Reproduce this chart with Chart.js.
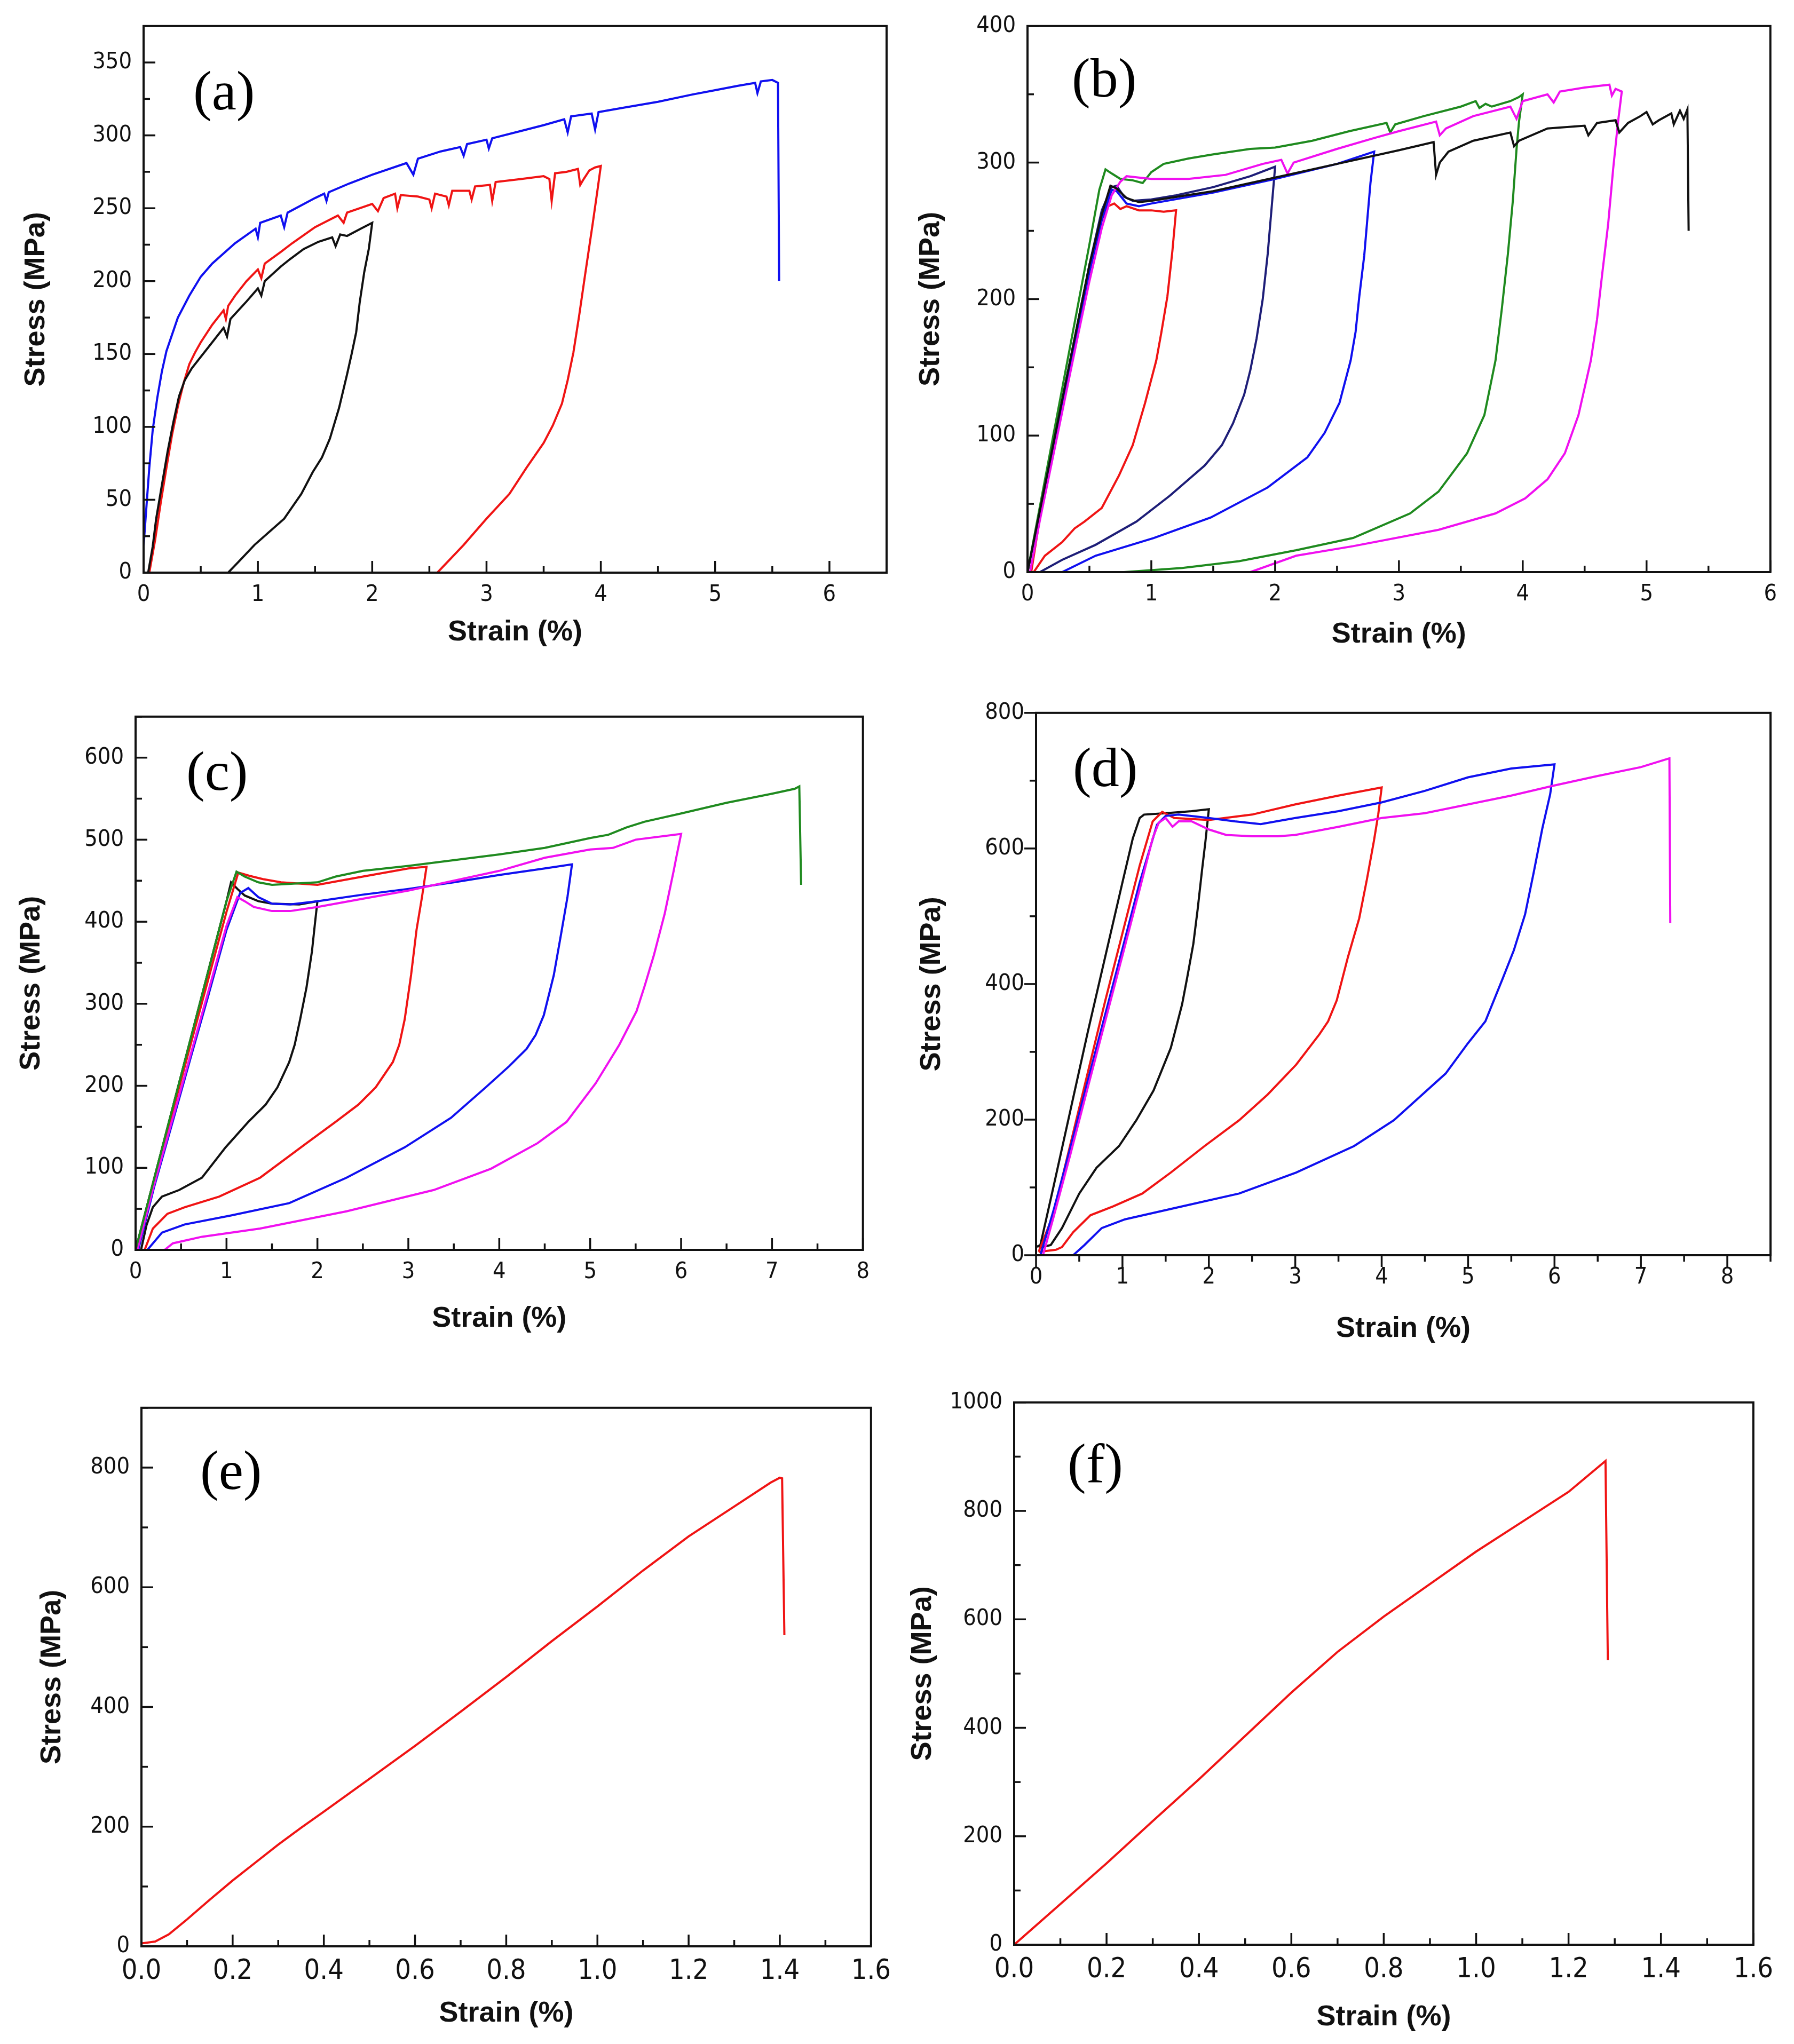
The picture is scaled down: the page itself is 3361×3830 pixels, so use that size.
<!DOCTYPE html>
<html>
<head>
<meta charset="utf-8">
<script src="https://cdn.jsdelivr.net/npm/chart.js@4.4.1/dist/chart.umd.min.js"></script>
<style>
html,body{margin:0;padding:0;background:#fff;}
body{width:3361px;height:3830px;position:relative;overflow:hidden;}
canvas{position:absolute;}
</style>
</head>
<body>
<script>
// ---- data: [strain %, stress MPa] ----
// (a)
const aBlue = [[0,18],[0.02,40],[0.05,72],[0.08,98],[0.12,120],[0.16,138],[0.2,152],[0.3,175],[0.4,190],[0.5,203],[0.6,212],[0.8,226],[0.98,236],[1.0,230],[1.02,240],[1.2,245],[1.23,237],[1.26,247],[1.5,257],[1.58,260],[1.6,255],[1.62,261],[1.8,267],[2.0,273],[2.3,281],[2.36,273],[2.4,284],[2.6,289],[2.77,292],[2.8,286],[2.83,294],[3.0,297],[3.02,291],[3.05,298],[3.3,303],[3.5,307],[3.68,311],[3.71,302],[3.74,313],[3.92,315],[3.95,304],[3.98,316],[4.2,319],[4.5,323],[4.8,328],[5.0,331],[5.2,334],[5.35,336],[5.37,329],[5.4,337],[5.5,338],[5.55,336],[5.56,200]];
const aRed = [[0.05,0],[0.1,22],[0.15,48],[0.2,72],[0.25,95],[0.3,114],[0.35,130],[0.4,143],[0.45,151],[0.5,158],[0.6,170],[0.7,180],[0.72,174],[0.74,183],[0.8,190],[0.9,200],[1.0,208],[1.03,202],[1.06,212],[1.2,220],[1.3,226],[1.5,237],[1.6,241],[1.7,245],[1.75,240],[1.78,247],[2.0,253],[2.05,248],[2.1,257],[2.2,260],[2.22,250],[2.25,259],[2.4,258],[2.5,256],[2.52,250],[2.55,260],[2.65,258],[2.67,252],[2.7,262],[2.85,262],[2.87,256],[2.9,265],[3.03,266],[3.05,255],[3.08,268],[3.3,270],[3.5,272],[3.55,270],[3.57,255],[3.6,274],[3.7,275],[3.8,277],[3.82,266],[3.85,270],[3.9,276],[3.95,278],[4.0,279],[3.97,262],[3.93,240],[3.86,203],[3.81,176],[3.76,151],[3.71,132],[3.66,116],[3.58,101],[3.5,89],[3.35,72],[3.2,54],[3.0,37],[2.8,19],[2.57,0]];
const aBlack = [[0.04,0],[0.08,18],[0.11,37],[0.16,60],[0.21,83],[0.26,103],[0.31,121],[0.36,132],[0.42,140],[0.5,148],[0.57,155],[0.7,168],[0.73,162],[0.76,174],[0.9,186],[1.0,195],[1.03,190],[1.06,200],[1.2,210],[1.28,215],[1.4,222],[1.53,227],[1.65,230],[1.68,224],[1.72,232],[1.78,231],[1.9,236],[2.0,240],[1.97,222],[1.93,206],[1.89,185],[1.86,165],[1.82,150],[1.78,136],[1.71,113],[1.63,92],[1.56,79],[1.48,69],[1.38,54],[1.3,45],[1.23,37],[1.1,28],[0.97,19],[0.85,9],[0.74,0]];
// (b)
const bRed = [[0.03,0],[0.1,40],[0.2,85],[0.3,130],[0.4,175],[0.5,220],[0.6,258],[0.65,268],[0.7,270],[0.75,266],[0.8,268],[0.9,265],[1.0,265],[1.1,264],[1.2,265],[1.17,235],[1.13,202],[1.08,175],[1.04,155],[0.95,124],[0.85,93],[0.74,71],[0.6,47],[0.46,37],[0.38,32],[0.28,22],[0.14,12],[0.05,0]];
const bNavy = [[0,0],[0.1,45],[0.2,90],[0.3,135],[0.4,180],[0.5,225],[0.6,265],[0.68,282],[0.72,283],[0.78,275],[0.85,272],[1.0,273],[1.2,276],[1.5,282],[1.8,290],[2.0,297],[1.97,265],[1.94,233],[1.9,200],[1.85,171],[1.8,148],[1.75,130],[1.66,109],[1.57,93],[1.43,78],[1.15,56],[0.88,37],[0.55,20],[0.28,9],[0.1,0]];
const bBlue = [[0,0],[0.1,44],[0.2,88],[0.3,132],[0.4,176],[0.5,220],[0.6,258],[0.68,280],[0.72,279],[0.8,270],[0.9,268],[1.0,270],[1.5,278],[2.0,288],[2.5,299],[2.8,308],[2.77,285],[2.75,264],[2.72,232],[2.68,202],[2.65,176],[2.61,155],[2.52,124],[2.4,102],[2.26,84],[1.94,62],[1.48,40],[1.02,25],[0.55,12],[0.28,0]];
const bGreen = [[0,0],[0.1,48],[0.2,96],[0.3,144],[0.4,192],[0.5,240],[0.58,280],[0.63,295],[0.68,292],[0.75,288],[0.85,287],[0.93,285],[1.0,293],[1.1,299],[1.3,303],[1.5,306],[1.8,310],[2.0,311],[2.3,316],[2.6,323],[2.9,329],[2.93,322],[2.97,328],[3.2,334],[3.5,341],[3.62,345],[3.65,340],[3.7,343],[3.75,341],[3.9,345],[3.97,348],[4.0,350],[3.97,330],[3.95,310],[3.92,272],[3.88,233],[3.83,192],[3.78,155],[3.69,115],[3.55,87],[3.32,59],[3.09,43],[2.63,25],[2.17,16],[1.71,8],[1.25,3],[0.78,0]];
const bMagenta = [[0.02,0],[0.1,38],[0.2,82],[0.3,126],[0.4,170],[0.5,213],[0.6,252],[0.68,276],[0.75,286],[0.8,290],[0.9,289],[1.0,288],[1.3,288],[1.6,291],[1.9,299],[2.05,302],[2.1,292],[2.15,300],[2.5,310],[2.8,318],[3.0,323],[3.3,330],[3.33,320],[3.38,325],[3.6,334],[3.9,341],[3.95,332],[4.0,345],[4.2,350],[4.25,344],[4.3,352],[4.5,355],[4.7,357],[4.72,349],[4.75,354],[4.8,352],[4.77,330],[4.73,295],[4.69,255],[4.64,217],[4.6,185],[4.55,155],[4.45,115],[4.34,87],[4.2,68],[4.02,54],[3.78,43],[3.32,31],[2.63,19],[2.17,12],[1.8,0]];
const bBlack = [[0,0],[0.1,45],[0.2,90],[0.3,135],[0.4,180],[0.5,225],[0.6,262],[0.67,283],[0.72,281],[0.8,274],[0.9,271],[1.0,272],[1.5,279],[2.0,289],[2.5,299],[3.0,309],[3.28,315],[3.3,291],[3.33,300],[3.4,308],[3.6,316],[3.9,322],[3.93,312],[3.97,316],[4.2,325],[4.5,327],[4.53,320],[4.6,329],[4.75,331],[4.78,322],[4.85,329],[4.95,334],[5.0,337],[5.05,328],[5.1,331],[5.2,336],[5.22,328],[5.27,338],[5.3,332],[5.33,339],[5.34,250]];
// (c)
const cGreen = [[0,0],[0.2,85],[0.4,170],[0.6,255],[0.8,340],[1.0,425],[1.11,461],[1.2,455],[1.35,448],[1.5,445],[2.0,448],[2.2,455],[2.5,462],[3.0,468],[3.5,475],[4.0,482],[4.5,490],[5.0,502],[5.2,506],[5.4,515],[5.6,522],[6.0,532],[6.5,545],[7.0,556],[7.25,562],[7.3,565],[7.32,445]];
const cRed = [[0.02,0],[0.2,82],[0.4,165],[0.6,248],[0.8,330],[1.0,412],[1.13,460],[1.25,456],[1.4,452],[1.6,448],[2.0,445],[2.5,455],[3.0,465],[3.2,467],[3.15,430],[3.09,390],[3.03,335],[2.96,281],[2.9,250],[2.83,229],[2.64,198],[2.45,177],[2.2,156],[1.88,130],[1.37,88],[0.92,65],[0.54,52],[0.35,44],[0.19,26],[0.1,0]];
const cBlack = [[0,0],[0.2,85],[0.4,170],[0.6,255],[0.8,340],[1.0,425],[1.05,448],[1.12,440],[1.2,432],[1.35,425],[1.5,422],[1.8,421],[2.0,425],[1.97,395],[1.94,364],[1.88,320],[1.81,281],[1.75,250],[1.69,229],[1.56,198],[1.43,177],[1.24,156],[0.99,125],[0.73,88],[0.48,73],[0.29,65],[0.19,52],[0.12,30],[0.06,0]];
const cBlue = [[0.03,0],[0.2,75],[0.4,153],[0.6,232],[0.8,310],[1.0,390],[1.15,435],[1.24,441],[1.35,430],[1.5,422],[1.7,421],[2.0,425],[2.5,433],[3.0,440],[3.5,448],[4.0,457],[4.5,465],[4.8,470],[4.75,430],[4.68,385],[4.6,335],[4.49,286],[4.4,262],[4.3,245],[4.11,224],[3.85,198],[3.47,161],[2.96,125],[2.32,88],[1.69,57],[1.05,42],[0.54,31],[0.29,21],[0.13,0]];
const cMagenta = [[0.02,0],[0.2,78],[0.4,157],[0.6,236],[0.8,315],[1.0,395],[1.12,430],[1.2,425],[1.3,418],[1.5,413],[1.7,413],[2.0,418],[2.5,428],[3.0,438],[3.5,450],[4.0,462],[4.5,478],[5.0,488],[5.25,490],[5.5,500],[6.0,507],[5.95,480],[5.92,463],[5.82,410],[5.7,359],[5.6,322],[5.51,291],[5.32,250],[5.06,203],[4.74,156],[4.42,130],[3.91,99],[3.28,73],[2.32,47],[1.37,26],[0.73,16],[0.41,8],[0.32,0]];
// (d)
const dBlack = [[0,12],[0.05,15],[0.2,100],[0.4,215],[0.6,330],[0.8,440],[1.0,550],[1.12,615],[1.2,645],[1.25,650],[1.5,652],[1.8,655],[2.0,658],[1.96,610],[1.92,567],[1.87,510],[1.82,459],[1.75,410],[1.69,370],[1.56,306],[1.36,243],[1.16,199],[0.96,161],[0.7,129],[0.5,91],[0.3,40],[0.17,15],[0.03,11]];
const dRed = [[0.03,5],[0.2,60],[0.4,165],[0.6,270],[0.8,375],[1.0,475],[1.2,575],[1.35,640],[1.46,654],[1.6,645],[2.0,642],[2.5,650],[3.0,665],[3.5,678],[4.0,690],[3.96,650],[3.91,611],[3.83,555],[3.74,497],[3.61,440],[3.48,376],[3.38,345],[3.28,326],[3.01,281],[2.68,237],[2.35,199],[1.95,161],[1.56,122],[1.23,91],[0.89,72],[0.63,59],[0.43,34],[0.3,12],[0.23,8],[0.03,5]];
const dBlue = [[0.05,0],[0.2,65],[0.4,160],[0.6,258],[0.8,355],[1.0,452],[1.2,550],[1.4,635],[1.5,648],[1.65,650],[2.0,645],[2.3,640],[2.6,636],[3.0,645],[3.5,655],[4.0,668],[4.5,685],[5.0,705],[5.5,718],[6.0,724],[5.95,680],[5.86,630],[5.76,565],[5.66,503],[5.53,450],[5.4,408],[5.2,345],[5.0,313],[4.74,268],[4.47,237],[4.14,199],[3.68,161],[3.01,122],[2.35,91],[1.69,72],[1.03,53],[0.76,40],[0.56,15],[0.43,0],[0,0]];
const dMagenta = [[0.08,0],[0.2,55],[0.4,150],[0.6,248],[0.8,345],[1.0,442],[1.2,540],[1.35,615],[1.42,638],[1.5,645],[1.58,632],[1.65,640],[1.8,640],[2.0,628],[2.2,620],[2.5,618],[2.8,618],[3.0,620],[3.5,632],[4.0,645],[4.5,652],[5.0,665],[5.5,678],[6.0,693],[6.5,707],[7.0,720],[7.33,733],[7.34,490]];
// (e), (f)
const eRed = [[0,5],[0.03,8],[0.06,20],[0.1,45],[0.15,78],[0.2,110],[0.25,140],[0.3,170],[0.35,198],[0.4,225],[0.5,280],[0.6,335],[0.7,392],[0.8,450],[0.9,510],[1.0,568],[1.1,628],[1.2,685],[1.3,735],[1.38,775],[1.4,783],[1.405,782],[1.41,520]];
const fRed = [[0,0],[0.1,75],[0.2,150],[0.3,228],[0.4,305],[0.5,385],[0.6,465],[0.7,540],[0.8,605],[0.9,665],[1.0,725],[1.1,780],[1.2,835],[1.28,892],[1.285,525]];

// ---- axes ----
const letters = ['(a)','(b)','(c)','(d)','(e)','(f)'];
const xMax = [6.5, 6, 8, 8.5, 1.6, 1.6];
const xMajor = [1, 1, 1, 1, 0.2, 0.2];
const xMinor = [0.5, 0.5, 0.5, 0.5, 0.1, 0.1];
const yMax = [375, 400, 650, 800, 900, 1000];
const yMajor = [50, 100, 100, 200, 200, 200];
const yMinor = [25, 50, 50, 100, 100, 100];

const BLUE = '#1010f0', RED = '#f01414', BLACK = '#111111', GREEN = '#1f8a1f', MAGENTA = '#f010f0', NAVY = '#1e1e78';
const curves = [
  [[aBlack, BLACK], [aRed, RED], [aBlue, BLUE]],
  [[bBlack, BLACK], [bMagenta, MAGENTA], [bGreen, GREEN], [bBlue, BLUE], [bNavy, NAVY], [bRed, RED]],
  [[cGreen, GREEN], [cMagenta, MAGENTA], [cBlue, BLUE], [cRed, RED], [cBlack, BLACK]],
  [[dMagenta, MAGENTA], [dBlue, BLUE], [dRed, RED], [dBlack, BLACK]],
  [[eRed, RED]],
  [[fRed, RED]]
];

// ---- layout (page px) ----
const boxes = [[269,49,1661,1073],[1925,49,3317,1072],[254,1343,1617,2342],[1941,1336,3317,2352],[265,2638,1632,3647],[1900,2628,3285,3644]];
const xTitleGap = [113,118,130,139,127,137];
const yTitleGap = [201,181,195,195,167,171];
const letterPos = [[93,129],[83,105],[95,110],[69,110],[110,125],[100,122]];
const tickDir = [1,1,1,-1,1,1];
const xTickFont = [43,43,43,43,52,52];

const NARROW = '"Liberation Sans Narrow","Arial Narrow","DejaVu Sans Condensed",sans-serif';
const SANS = '"Liberation Sans",Arial,sans-serif';

const isMajor = (v, m) => Math.abs(v / m - Math.round(v / m)) < 1e-6;
const stepsTo = (max, step) => { const out = []; for (let k = 0; k * step <= max + 1e-9; k++) out.push(+(k * step).toFixed(4)); return out; };

const frame = {
  id: 'frame',
  afterDraw(chart, args, o) {
    const {ctx, chartArea: ca, scales} = chart;
    ctx.save();
    ctx.strokeStyle = '#111';
    ctx.lineCap = 'butt';
    ctx.lineWidth = 3.5;
    scales.x.ticks.forEach(t => {
      const px = scales.x.getPixelForValue(t.value);
      const len = isMajor(t.value, o.xMajor) ? 22 : 12;
      ctx.beginPath(); ctx.moveTo(px, ca.bottom); ctx.lineTo(px, ca.bottom - o.dir * len); ctx.stroke();
    });
    scales.y.ticks.forEach(t => {
      const py = scales.y.getPixelForValue(t.value);
      const len = isMajor(t.value, o.yMajor) ? 22 : 12;
      ctx.beginPath(); ctx.moveTo(ca.left, py); ctx.lineTo(ca.left + o.dir * len, py); ctx.stroke();
    });
    ctx.lineWidth = 4;
    ctx.strokeRect(ca.left, ca.top, ca.right - ca.left, ca.bottom - ca.top);
    ctx.fillStyle = '#000';
    ctx.font = '104px "Liberation Serif","Times New Roman",serif';
    ctx.textAlign = 'left';
    ctx.textBaseline = 'middle';
    ctx.fillText(o.letter, ca.left + o.lx, ca.top + o.ly);
    ctx.restore();
  }
};

function config(i, yW, xH) {
  const xTicks = stepsTo(xMax[i], xMinor[i]);
  const yTicks = stepsTo(yMax[i], yMinor[i]);
  const decimals = xMajor[i] < 1 ? 1 : 0;
  return {
    type: 'scatter',
    data: {
      datasets: curves[i].map(([pts, col]) => ({
        data: pts.map(([x, y]) => ({x, y})),
        borderColor: col, borderWidth: 4, showLine: true, pointRadius: 0, tension: 0, fill: false
      }))
    },
    options: {
      responsive: false, maintainAspectRatio: false, animation: false, devicePixelRatio: 1,
      layout: {padding: 0},
      plugins: {
        legend: {display: false}, tooltip: {enabled: false},
        frame: {letter: letters[i], lx: letterPos[i][0], ly: letterPos[i][1], dir: tickDir[i], xMajor: xMajor[i], yMajor: yMajor[i]}
      },
      scales: {
        x: {
          type: 'linear', min: 0, max: xMax[i],
          afterFit: s => { s.height = xH; },
          afterBuildTicks: s => { s.ticks = xTicks.map(v => ({value: v})); },
          grid: {display: false, drawTicks: false}, border: {display: false},
          ticks: {autoSkip: false, maxRotation: 0, padding: 16, color: '#111',
            font: {family: NARROW, size: xTickFont[i]},
            callback: v => isMajor(v, xMajor[i]) ? v.toFixed(decimals) : ''},
          title: {display: true, text: 'Strain (%)', color: '#111', padding: 0,
            font: {family: SANS, size: 54, weight: 'bold'}}
        },
        y: {
          type: 'linear', min: 0, max: yMax[i],
          afterFit: s => { s.width = yW; },
          afterBuildTicks: s => { s.ticks = yTicks.map(v => ({value: v})); },
          grid: {display: false, drawTicks: false}, border: {display: false},
          ticks: {autoSkip: false, padding: 22, color: '#111',
            font: {family: NARROW, size: 43},
            callback: v => isMajor(v, yMajor[i]) ? String(Math.round(v)) : ''},
          title: {display: true, text: 'Stress (MPa)', color: '#111', padding: 0,
            font: {family: SANS, size: 54, weight: 'bold'}}
        }
      }
    },
    plugins: [frame]
  };
}

function makePanel(i) {
  const [l, t, r, b] = boxes[i];
  const yW = yTitleGap[i] + 32, xH = xTitleGap[i] + 32;
  const cv = document.createElement('canvas');
  cv.width = yW + (r - l) + 60;
  cv.height = 60 + (b - t) + xH;
  document.body.appendChild(cv);
  // first pass: measure how much room the library keeps around the plot area
  let chart = new Chart(cv, config(i, yW, xH));
  let ca = chart.chartArea;
  const w = cv.width + (r - l) - (ca.right - ca.left);
  const h = cv.height + (b - t) - (ca.bottom - ca.top);
  chart.destroy();
  cv.width = Math.round(w);
  cv.height = Math.round(h);
  chart = new Chart(cv, config(i, yW, xH));
  ca = chart.chartArea;
  cv.style.left = Math.round(l - ca.left) + 'px';
  cv.style.top = Math.round(t - ca.top) + 'px';
}

for (let i = 0; i < 6; i++) makePanel(i);
</script>
</body>
</html>
